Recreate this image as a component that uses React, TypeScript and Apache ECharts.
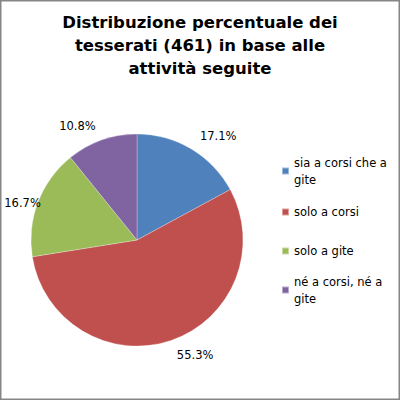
import React, { useEffect, useRef } from "react";
import * as echarts from "echarts";

const titleLines = ["Distribuzione percentuale dei", "tesserati (461) in base alle", "attività seguite"];
const categories = ["sia a corsi che a gite", "solo a corsi", "solo a gite", "né a corsi, né a gite"];
const legendLabels = ["sia a corsi che a\ngite", "solo a corsi", "solo a gite", "né a corsi, né a\ngite"];
const percentages = [17.1, 55.3, 16.7, 10.8];
const colors = ["#4F81BD", "#C0504D", "#9BBB59", "#8064A2"];

const FONT = "DejaVu Sans";

export default function App() {
  const ref = useRef<HTMLDivElement>(null);
  useEffect(() => {
    document.body.style.margin = "0";
    const chart = echarts.init(ref.current!, undefined, { renderer: "svg" });
    const legendTops = [145.5, 203.5, 242.5, 264.5];
    const option: any = {
      animation: false,
      backgroundColor: "#fff",
      color: colors,
      title: {
        text: titleLines.join("\n"),
        left: "center",
        top: 10.5,
        padding: 0,
        textStyle: { fontFamily: FONT, fontWeight: "bold", fontSize: 16.5, lineHeight: 23, color: "#000" },
      },
      legend: categories.map((c, i) => ({
        data: [c],
        orient: "vertical",
        left: 281,
        top: legendTops[i],
        padding: 0,
        itemWidth: 7,
        itemHeight: 7,
        icon: "rect",
        selectedMode: false,
        formatter: () => legendLabels[i],
        textStyle: {
          fontFamily: FONT,
          fontSize: 11.5,
          lineHeight: 17,
          color: "#000",
          padding: legendLabels[i].includes("\n") ? [17, 0, 0, 0] : 0,
        },
      })),
      graphic: [
        {
          type: "rect",
          shape: { x: 0.75, y: 0.75, width: 398.5, height: 398.5 },
          style: { fill: "none", stroke: "#868686", lineWidth: 1.5 },
          silent: true,
          z: 100,
        },
      ],
      series: [
        {
          type: "pie",
          center: [137, 240],
          radius: 106,
          startAngle: 90,
          clockwise: true,
          avoidLabelOverlap: false,
          itemStyle: { borderColor: "rgba(255,255,255,0.45)", borderWidth: 0.6 },
          label: {
            show: true,
            position: "outside",
            fontFamily: FONT,
            fontSize: 11.5,
            color: "#000",
            distanceToLabelLine: 1,
            formatter: (p: any) => `${Number(p.value).toFixed(1)}%`,
          },
          labelLine: { show: false, length: 15, length2: 0 },
          emphasis: { disabled: true },
          data: categories.map((name, i) => ({
            name,
            value: percentages[i],
            ...(i === 2 ? { labelLine: { show: false, length: -3, length2: 0 }, label: { distanceToLabelLine: 0 } } : {}),
          })),
        },
      ],
    };
    chart.setOption(option);
    return () => chart.dispose();
  }, []);
  return <div ref={ref} style={{ position: "absolute", left: 0, top: 0, width: 400, height: 400 }} />;
}
